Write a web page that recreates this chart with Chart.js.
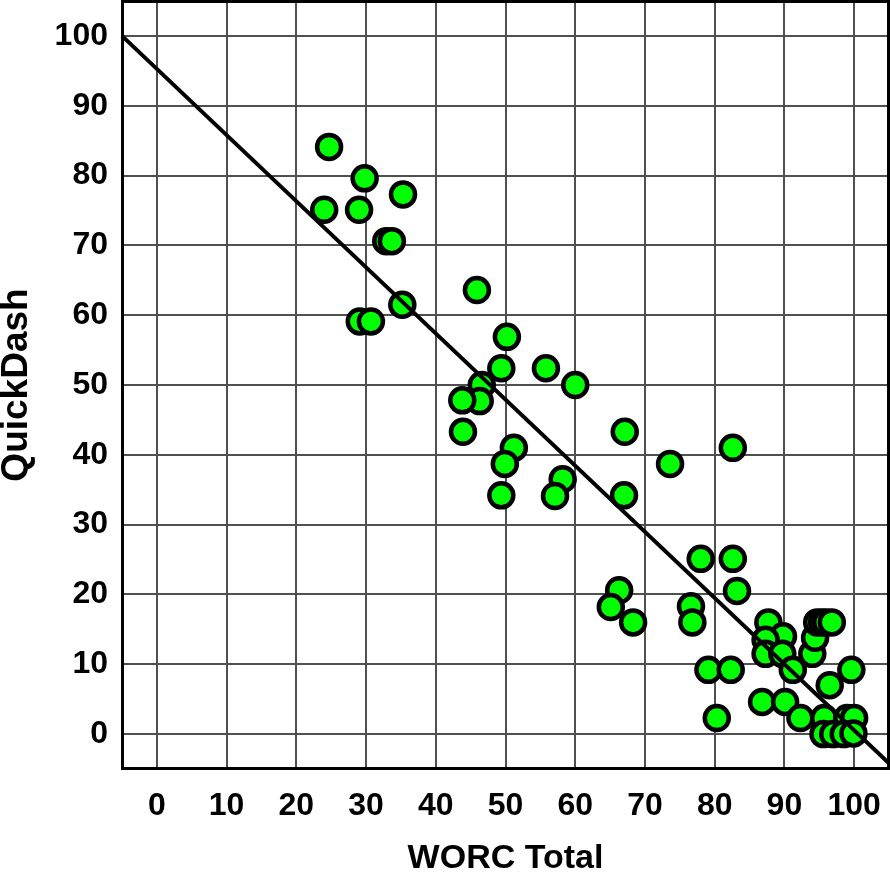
<!DOCTYPE html>
<html>
<head>
<meta charset="utf-8">
<script src="https://cdn.jsdelivr.net/npm/chart.js@4"></script>
<style>
  html, body { margin: 0; padding: 0; background: #fff; overflow: hidden; }
  #wrap { width: 890px; height: 873px; }
</style>
</head>
<body>
<div id="wrap"><canvas id="c" width="890" height="873"></canvas></div>
<script>
// ---- data ----
const worcTotal = [
  24.7, 24.0, 29.8, 29.0, 35.3, 32.9, 33.7, 35.2, 29.1, 30.7,
  45.9, 50.2, 49.4, 55.8, 60.0, 46.6, 46.3, 43.8, 43.9, 51.2,
  49.9, 49.4, 58.2, 57.1, 67.1, 73.6, 82.6, 67.0, 78.0, 82.6,
  83.2, 66.3, 65.1, 68.3, 76.6, 76.8, 87.7, 89.8, 87.3, 87.3,
  89.7, 91.2, 94.0, 94.4, 94.7, 95.4, 96.0, 96.8, 99.6, 96.5,
  80.3, 79.1, 82.3, 86.8, 90.1, 92.3, 95.7, 99.0, 100.0,
  95.6, 97.0, 98.5, 99.9
];
const quickDash = [
  84.1, 75.1, 79.6, 75.1, 77.3, 70.6, 70.6, 61.5, 59.1, 59.1,
  63.6, 56.9, 52.4, 52.4, 50.0, 50.0, 47.7, 47.8, 43.3, 41.0,
  38.7, 34.2, 36.5, 34.1, 43.3, 38.7, 41.0, 34.2, 25.1, 25.1,
  20.5, 20.6, 18.2, 16.0, 18.3, 16.0, 16.0, 14.0, 13.5, 11.5,
  11.5, 9.2, 11.5, 13.8, 16.0, 16.0, 16.0, 16.0, 9.2, 7.0,
  2.3, 9.2, 9.2, 4.6, 4.6, 2.3, 2.3, 2.3, 2.3,
  0.0, 0.0, 0.0, 0.1
];
const fitLineX = [-5, 105];
const fitLineY = [100.0, -4.2];
const xTicks = [0, 10, 20, 30, 40, 50, 60, 70, 80, 90, 100];
const yTicks = [0, 10, 20, 30, 40, 50, 60, 70, 80, 90, 100];
const xLabel = 'WORC Total';
const yLabel = 'QuickDash';

// ---- chart ----
const FONT = "'Liberation Sans', Arial, Helvetica, sans-serif";
const scatterPts = worcTotal.map((x, i) => ({ x: x, y: quickDash[i] }));
const linePts = fitLineX.map((x, i) => ({ x: x, y: fitLineY[i] }));

const framePlugin = {
  id: 'frame',
  beforeDatasetsDraw(chart) {
    const a = chart.chartArea, ctx = chart.ctx;
    ctx.save();
    ctx.strokeStyle = '#000';
    ctx.lineWidth = 3;
    ctx.strokeRect(a.left + 0.5, a.top + 0.5, a.right - a.left - 1, a.bottom - a.top - 1);
    ctx.restore();
  }
};

new Chart(document.getElementById('c'), {
  type: 'scatter',
  data: {
    datasets: [
      {
        type: 'line',
        data: linePts,
        borderColor: '#000',
        borderWidth: 4,
        pointRadius: 0,
        fill: false,
        order: 0
      },
      {
        type: 'scatter',
        data: scatterPts,
        backgroundColor: '#00ff00',
        borderColor: '#000',
        borderWidth: 4.5,
        pointRadius: 12,
        pointHoverRadius: 12,
        order: 1
      }
    ]
  },
  options: {
    responsive: false,
    animation: false,
    events: [],
    clip: false,
    layout: { autoPadding: false, padding: { top: 1, right: 1, left: 0, bottom: 0 } },
    plugins: { legend: { display: false }, tooltip: { enabled: false } },
    scales: {
      x: {
        type: 'linear',
        min: -5, max: 105,
        afterBuildTicks: s => { s.ticks = xTicks.map(v => ({ value: v })); },
        afterFit: s => { s.height = 104; s.paddingLeft = 0; s.paddingRight = 0; },
        grid: { color: '#505050', lineWidth: 2, drawTicks: false },
        border: { display: false },
        ticks: { color: '#000', padding: 18, font: { family: FONT, size: 32, weight: 'bold' }, maxRotation: 0 },
        title: { display: true, text: xLabel, color: '#000', padding: { top: 0, bottom: -3 }, font: { family: FONT, size: 34, weight: 'bold', lineHeight: 1 } }
      },
      y: {
        type: 'linear',
        min: -5, max: 105,
        afterBuildTicks: s => { s.ticks = yTicks.map(v => ({ value: v })); },
        afterFit: s => { s.width = 122; s.paddingTop = 0; s.paddingBottom = 0; },
        grid: { color: '#505050', lineWidth: 2, drawTicks: false },
        border: { display: false },
        ticks: { color: '#000', padding: 14, font: { family: FONT, size: 32, weight: 'bold' } },
        title: { display: true, text: yLabel, color: '#000', padding: { top: -2, bottom: 0 }, font: { family: FONT, size: 37, weight: 'bold', lineHeight: 1 } }
      }
    }
  },
  plugins: [framePlugin]
});
</script>
</body>
</html>
